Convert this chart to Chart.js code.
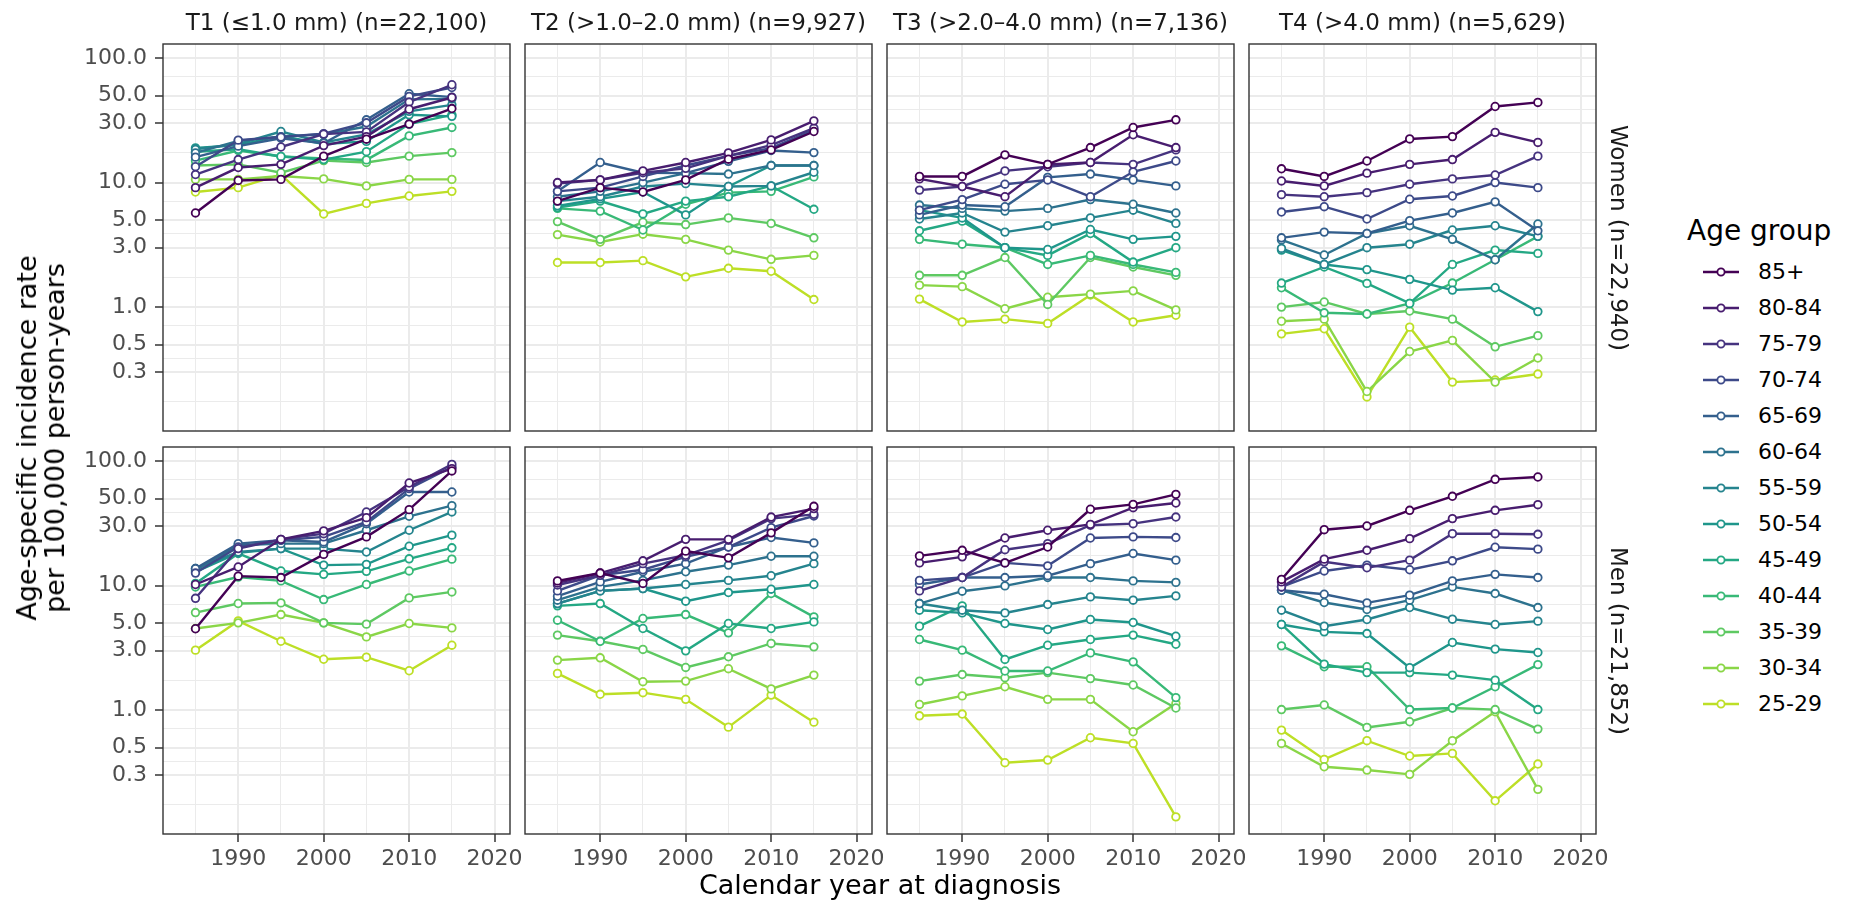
<!DOCTYPE html>
<html>
<head>
<meta charset="utf-8">
<script src="https://cdn.jsdelivr.net/npm/chart.js@4.4.1/dist/chart.umd.min.js"></script>
<style>
  body { margin: 0; background: #fff; width: 1856px; height: 907px; position: relative; overflow: hidden; font-family: 'DejaVu Sans', sans-serif; }
  .panel { position: absolute; }
  .txt { position: absolute; white-space: nowrap; }
</style>
</head>
<body>
<div id="root"></div>
<script>
// --- data ---
const years = [1985, 1990, 1995, 2000, 2005, 2010, 2015];
const ageGroups = ['85+', '80-84', '75-79', '70-74', '65-69', '60-64', '55-59', '50-54', '45-49', '40-44', '35-39', '30-34', '25-29'];
const ageColors = ['#440154', '#481D6F', '#46337F', '#3D4A89', '#345F8D', '#2D728E', '#25848E', '#1F968B', '#24A884', '#38B977', '#5EC962', '#8AD647', '#BDDF26'];
const stageTitles = ['T1 (≤1.0 mm) (n=22,100)', 'T2 (>1.0–2.0 mm) (n=9,927)', 'T3 (>2.0–4.0 mm) (n=7,136)', 'T4 (>4.0 mm) (n=5,629)'];
const sexTitles = ['Women (n=22,940)', 'Men (n=21,852)'];
const yBreaks = [0.3, 0.5, 1, 3, 5, 10, 30, 50, 100];
const yMinorBreaks = [0.173, 0.387, 0.707, 1.73, 3.87, 7.07, 17.3, 38.7, 70.7];
const xBreaks = [1990, 2000, 2010, 2020];
const xMinorBreaks = [1985, 1995, 2005, 2015];

// rows = age groups (85+ first), columns = years
const womenT1 = [
  [5.7, 10.4, 10.6, 16.3, 22.3, 29.5, 39.3],
  [9.1, 13.2, 14.0, 19.8, 23.4, 38.8, 48.2],
  [11.6, 15.3, 19.3, 24.5, 25.5, 44.3, 61],
  [13.4, 21.9, 23.2, 24.7, 30.2, 49.2, 58],
  [16.0, 19.6, 22.7, 20.7, 31.9, 51.7, 48.5],
  [17.3, 21.6, 23.3, 24.4, 28.2, 46.6, 47],
  [18.5, 20.4, 25.7, 21.0, 24.4, 37.3, 42.1],
  [19.0, 20.0, 23.7, 20.4, 21.4, 35.0, 34.0],
  [17.7, 18.5, 16.2, 15.3, 17.7, 29.5, 35.0],
  [15.0, 18.1, 16.2, 15.6, 15.2, 23.7, 27.7],
  [13.7, 14.0, 12.0, 15.0, 14.5, 16.3, 17.4],
  [10.6, 10.6, 11.3, 10.7, 9.4, 10.6, 10.6],
  [8.4, 9.1, 11.6, 5.6, 6.8, 7.8, 8.5]
];
const womenT2 = [
  [7.1, 9.1, 8.4, 10.5, 15.4, 18.3, 25.7],
  [10, 10.5, 12.4, 14.5, 17.3, 22, 31.3],
  [9.8, 10.5, 12, 13, 16.4, 20, 27.4],
  [8.5, 9.1, 11.2, 13.7, 16.4, 18.9, 26.5],
  [8.5, 14.5, 12, 11.9, 14.8, 18.1, 17.4],
  [7.7, 8.5, 10, 11.9, 11.7, 13.7, 13.7],
  [7.1, 7.7, 9.3, 9.8, 9.3, 9.4, 12.1],
  [6.5, 7.4, 8.4, 5.5, 9.3, 13.7, 13.7],
  [6.3, 7.1, 5.6, 7.1, 7.7, 9.4, 6.1],
  [6.2, 5.9, 4.16, 6.7, 8.3, 8.5, 11.1],
  [4.86, 3.5, 4.8, 4.6, 5.2, 4.7, 3.6],
  [3.82, 3.33, 3.85, 3.5, 2.87, 2.42, 2.6],
  [2.28, 2.28, 2.36, 1.75, 2.05, 1.94, 1.15]
];
const womenT3 = [
  [11.2, 11.2, 16.7, 14.0, 19.1, 27.7, 31.9],
  [10.7, 9.3, 7.7, 14.0, 14.5, 24.2, 19.1],
  [8.7, 9.3, 12.4, 13.4, 14.5, 14.0, 18.3],
  [6.0, 7.3, 9.7, 10.5, 7.7, 12.2, 14.9],
  [5.5, 6.6, 6.4, 11.0, 11.7, 10.5, 9.4],
  [6.6, 6.2, 5.9, 6.2, 7.3, 6.7, 5.7],
  [5.1, 5.7, 4.0, 4.5, 5.2, 6.0, 4.7],
  [6.0, 5.2, 3.0, 2.9, 4.2, 3.5, 3.7],
  [4.1, 4.9, 3.0, 2.6, 3.9, 2.3, 3.0],
  [3.5, 3.2, 3.0, 2.2, 2.6, 2.2, 1.9],
  [1.8, 1.8, 2.5, 1.05, 2.5, 2.1, 1.8],
  [1.5, 1.46, 0.97, 1.2, 1.27, 1.35, 0.95],
  [1.16, 0.76, 0.80, 0.74, 1.25, 0.76, 0.86]
];
const womenT4 = [
  [12.9, 11.2, 14.9, 22.4, 23.4, 40.8, 44],
  [10.3, 9.4, 11.9, 14.0, 15.3, 25.3, 21],
  [8.0, 7.7, 8.3, 9.7, 10.7, 11.5, 16.3],
  [5.8, 6.4, 5.1, 7.35, 7.8, 10.0, 9.1],
  [3.6, 4.0, 3.9, 4.95, 5.7, 7.0, 4.1],
  [3.46, 2.62, 3.9, 4.5, 3.5, 2.4, 4.65],
  [2.96, 2.2, 3.0, 3.2, 4.16, 4.5, 3.7],
  [2.87, 2.2, 2.0, 1.67, 1.37, 1.43, 0.92],
  [1.56, 2.1, 1.55, 1.07, 2.2, 2.87, 2.7],
  [1.43, 0.9, 0.88, 1.07, 1.56, 2.4, 3.7],
  [1.0, 1.1, 0.88, 0.93, 0.80, 0.48, 0.59],
  [0.77, 0.80, 0.21, 0.44, 0.54, 0.25, 0.39],
  [0.61, 0.67, 0.19, 0.69, 0.25, 0.26, 0.29]
];
const menT1 = [
  [4.5, 11.9, 11.6, 17.8, 24.6, 40.7, 83.2],
  [10.2, 14.1, 23.5, 27.5, 35.1, 66.6, 86.9],
  [7.9, 19.8, 23.5, 26.1, 39.0, 61.8, 94.0],
  [12.6, 20.4, 23.1, 24.6, 32.4, 60.0, 89.5],
  [13.7, 21.7, 23.1, 22.4, 31.4, 56.4, 56.4],
  [13.3, 21.1, 21.7, 21.7, 27.8, 36.0, 43.8],
  [13.7, 18.6, 19.8, 19.8, 18.6, 27.8, 39.0],
  [12.9, 18.3, 19.8, 14.6, 14.8, 20.7, 25.4],
  [10.4, 18.1, 13.1, 12.3, 13.0, 16.4, 20.1],
  [9.75, 11.7, 10.9, 7.72, 10.2, 13.1, 16.3],
  [6.07, 7.18, 7.26, 5.02, 4.90, 7.96, 8.89],
  [4.52, 5.02, 5.85, 5.02, 3.87, 4.96, 4.57],
  [3.03, 5.2, 3.57, 2.56, 2.66, 2.07, 3.32]
];
const menT2 = [
  [10.9, 12.6, 10.4, 18.9, 16.7, 26.5, 43.3],
  [10.5, 12.6, 15.8, 23.5, 23.5, 35.5, 41.5],
  [10.1, 12.1, 15.0, 17.5, 23.1, 34.5, 37.3],
  [9.06, 12.1, 13.4, 17.0, 20.4, 29.2, 36.2],
  [8.21, 10.7, 12.9, 15.0, 20.4, 24.3, 22.0],
  [7.63, 9.75, 11.0, 12.9, 14.6, 17.2, 17.2],
  [7.17, 9.06, 9.46, 10.2, 11.0, 12.0, 15.0],
  [7.17, 9.06, 9.46, 7.49, 8.79, 9.35, 10.2],
  [6.87, 7.17, 4.52, 2.99, 4.96, 4.52, 5.11],
  [5.27, 3.57, 5.44, 5.85, 4.17, 8.63, 5.61],
  [4.0, 3.57, 3.07, 2.20, 2.68, 3.43, 3.22],
  [2.52, 2.63, 1.69, 1.71, 2.15, 1.48, 1.91],
  [1.97, 1.34, 1.38, 1.22, 0.73, 1.32, 0.80]
];
const menT3 = [
  [17.3, 19.2, 15.2, 20.4, 41.0, 44.9, 54.0],
  [15.2, 17.0, 24.1, 27.8, 31.0, 42.2, 46.0],
  [9.06, 11.6, 19.4, 21.7, 30.5, 31.4, 35.5],
  [11.0, 11.6, 15.2, 14.4, 24.1, 24.6, 24.3],
  [10.2, 11.6, 11.6, 12.0, 15.0, 18.1, 16.0],
  [7.17, 9.01, 9.94, 11.6, 11.6, 10.9, 10.6],
  [7.17, 6.34, 6.03, 7.04, 8.11, 7.63, 8.26],
  [6.34, 6.03, 4.96, 4.44, 5.34, 5.05, 3.92],
  [4.72, 6.87, 2.55, 3.32, 3.69, 4.0, 3.38],
  [3.69, 3.03, 2.06, 2.06, 2.88, 2.44, 1.26],
  [1.71, 1.93, 1.82, 2.00, 1.79, 1.59, 1.04],
  [1.11, 1.30, 1.54, 1.22, 1.22, 0.67, 1.13],
  [0.90, 0.93, 0.378, 0.397, 0.60, 0.54, 0.139]
];
const menT4 = [
  [11.2, 28.1, 30.1, 40.2, 52.1, 71.3, 74.4],
  [10.7, 16.3, 19.2, 23.8, 34.5, 40.2, 44.6],
  [9.75, 15.5, 13.9, 16.0, 26.1, 26.1, 25.8],
  [9.75, 13.1, 14.6, 13.4, 15.8, 20.3, 19.6],
  [9.17, 8.52, 7.26, 8.37, 10.9, 12.3, 11.6],
  [9.17, 7.31, 6.42, 7.63, 9.75, 8.63, 6.66],
  [6.34, 4.72, 5.34, 6.66, 5.37, 4.87, 5.18],
  [4.87, 4.25, 4.12, 2.19, 3.49, 3.09, 2.90],
  [4.87, 2.34, 2.00, 2.00, 1.91, 1.74, 1.01],
  [3.28, 2.23, 2.23, 1.01, 1.04, 1.54, 2.32],
  [1.01, 1.10, 0.726, 0.806, 1.04, 1.01, 0.704],
  [0.54, 0.351, 0.330, 0.305, 0.568, 0.97, 0.231],
  [0.691, 0.402, 0.568, 0.428, 0.449, 0.187, 0.369]
];
const panels = [[womenT1, womenT2, womenT3, womenT4], [menT1, menT2, menT3, menT4]];

// --- layout ---
const colLeft = [163, 525, 887, 1249];
const rowTop = [44, 447];
const panelW = 347, panelH = 387;
const pad = 32, yAxisW = 85, xAxisH = 45;
const font = 'DejaVu Sans';
const root = document.getElementById('root');

function addText(text, css) {
  const d = document.createElement('div');
  d.className = 'txt';
  d.textContent = text;
  Object.assign(d.style, css);
  root.appendChild(d);
  return d;
}

const panelBorder = {
  id: 'panelBorder',
  afterDraw(chart) {
    const a = chart.chartArea, ctx = chart.ctx;
    ctx.save();
    ctx.strokeStyle = '#333333';
    ctx.lineWidth = 1.4;
    ctx.strokeRect(a.left, a.top, a.right - a.left, a.bottom - a.top);
    ctx.restore();
  }
};

function makePanel(r, c) {
  const showY = c === 0, showX = r === 1;
  const w = panelW + 2 * pad + (showY ? yAxisW : 0);
  const h = panelH + 2 * pad + (showX ? xAxisH : 0);
  const canvas = document.createElement('canvas');
  canvas.width = w; canvas.height = h;
  canvas.className = 'panel';
  canvas.style.left = (colLeft[c] - pad - (showY ? yAxisW : 0)) + 'px';
  canvas.style.top = (rowTop[r] - pad) + 'px';
  canvas.style.width = w + 'px'; canvas.style.height = h + 'px';
  root.appendChild(canvas);

  const values = panels[r][c];
  const datasets = ageGroups.map((g, i) => ({
    label: g,
    data: years.map((yr, j) => ({ x: yr, y: values[i][j] })),
    borderColor: ageColors[i],
    backgroundColor: '#ffffff',
    borderWidth: 2.4,
    pointRadius: 3.8,
    pointBorderWidth: 1.8,
    pointBackgroundColor: '#ffffff',
    pointBorderColor: ageColors[i],
    tension: 0
  }));

  new Chart(canvas, {
    type: 'line',
    data: { datasets },
    options: {
      responsive: false,
      animation: false,
      devicePixelRatio: 1,
      layout: { padding: pad },
      plugins: { legend: { display: false }, tooltip: { enabled: false } },
      scales: {
        x: {
          type: 'linear',
          min: 1981.2,
          max: 2021.8,
          bounds: 'data',
          afterBuildTicks: s => { s.ticks = [...xMinorBreaks, ...xBreaks].sort((a, b) => a - b).map(v => ({ value: v })); },
          afterFit: s => { s.height = showX ? xAxisH : 0; },
          border: { display: false },
          grid: {
            color: '#EBEBEB',
            lineWidth: ctx => (ctx.tick && xBreaks.includes(ctx.tick.value)) ? 2 : 1,
            drawTicks: showX,
            tickLength: 8,
            tickWidth: 1.5,
            tickColor: ctx => (ctx.tick && xBreaks.includes(ctx.tick.value)) ? '#333333' : 'rgba(0,0,0,0)'
          },
          ticks: {
            display: showX,
            autoSkip: false,
            maxRotation: 0,
            padding: 4,
            color: '#4D4D4D',
            font: { family: font, size: 22 },
            callback: v => xBreaks.includes(v) ? String(v) : ''
          }
        },
        y: {
          type: 'logarithmic',
          min: 0.1012,
          max: 129.6,
          bounds: 'data',
          afterBuildTicks: s => { s.ticks = [...yMinorBreaks, ...yBreaks].sort((a, b) => a - b).map(v => ({ value: v })); },
          afterFit: s => { s.width = showY ? yAxisW : 0; },
          border: { display: false },
          grid: {
            color: '#EBEBEB',
            lineWidth: ctx => (ctx.tick && yBreaks.includes(ctx.tick.value)) ? 2 : 1,
            drawTicks: showY,
            tickLength: 8,
            tickWidth: 1.5,
            tickColor: ctx => (ctx.tick && yBreaks.includes(ctx.tick.value)) ? '#333333' : 'rgba(0,0,0,0)'
          },
          ticks: {
            display: showY,
            autoSkip: false,
            padding: 8,
            color: '#4D4D4D',
            font: { family: font, size: 22 },
            callback: v => yBreaks.includes(v) ? v.toFixed(1) : ''
          }
        }
      }
    },
    plugins: [panelBorder]
  });
}

for (let r = 0; r < 2; r++) {
  for (let c = 0; c < 4; c++) makePanel(r, c);
}

// column strips
stageTitles.forEach((t, c) => {
  addText(t, { left: (colLeft[c] + panelW / 2) + 'px', top: '22px', transform: 'translate(-50%, -50%)', fontSize: '23px', color: '#1A1A1A', lineHeight: '28px' });
});
// row strips
sexTitles.forEach((t, r) => {
  addText(t, { left: '1619px', top: (rowTop[r] + panelH / 2) + 'px', transform: 'translate(-50%, -50%) rotate(90deg)', fontSize: '23px', color: '#1A1A1A', lineHeight: '28px' });
});

// axis titles
const yTitle = addText('', { left: '41px', top: '438px', transform: 'translate(-50%, -50%) rotate(-90deg)', fontSize: '27px', color: '#000', lineHeight: '28px', textAlign: 'center' });
yTitle.innerHTML = 'Age-specific incidence rate<br>per 100,000 person-years';
addText('Calendar year at diagnosis', { left: '880px', top: '885px', transform: 'translate(-50%, -50%)', fontSize: '27px', color: '#000', lineHeight: '32px' });

// legend
addText('Age group', { left: '1687px', top: '231px', transform: 'translateY(-50%)', fontSize: '28px', color: '#000', lineHeight: '34px' });
ageGroups.forEach((g, i) => {
  const cy = 272 + 36 * i;
  const key = document.createElement('div');
  key.className = 'txt';
  Object.assign(key.style, { left: '1703px', top: (cy - 8) + 'px', width: '36px', height: '16px' });
  key.innerHTML = '<svg width="36" height="16"><line x1="0" y1="8" x2="36" y2="8" stroke="' + ageColors[i] + '" stroke-width="2.4"/>' +
    '<circle cx="18" cy="8" r="3.6" fill="#fff" stroke="' + ageColors[i] + '" stroke-width="1.8"/></svg>';
  root.appendChild(key);
  addText(g, { left: '1758px', top: cy + 'px', transform: 'translateY(-50%)', fontSize: '22px', color: '#000', lineHeight: '26px' });
});
</script>
</body>
</html>
